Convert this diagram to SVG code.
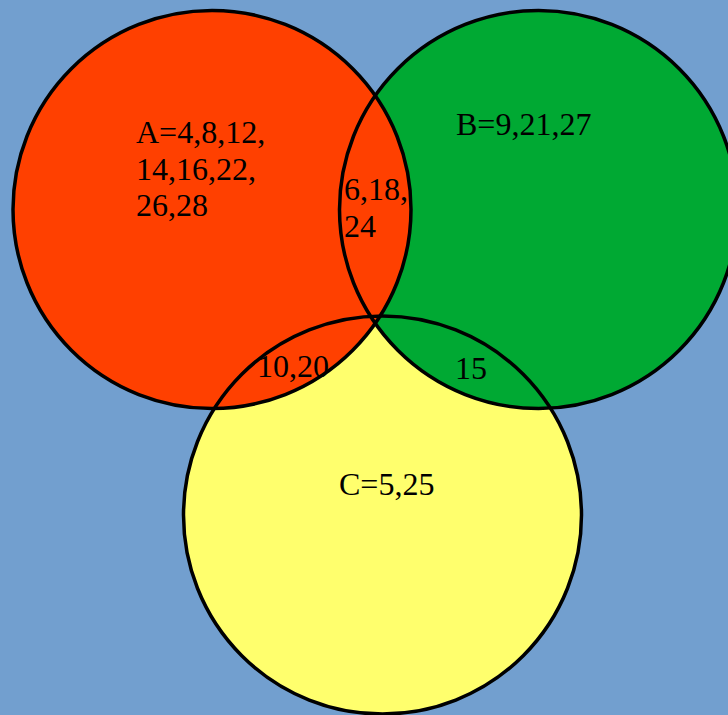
<svg xmlns="http://www.w3.org/2000/svg" width="728" height="715" viewBox="0 0 728 715">
<style>
.o{fill:none;stroke:#000;stroke-width:3.5}
text{font-family:"Liberation Serif",serif;font-size:32px;fill:#000}
</style>
<rect width="728" height="715" fill="#729fcf"/>
<g id="C"><circle cx="382.5" cy="515" r="199" fill="#ffff6d"/></g>
<g id="B"><circle cx="538.5" cy="209.5" r="199" fill="#00a933"/></g>
<g id="A"><circle cx="212" cy="209.5" r="199" fill="#ff4000"/></g>
<g id="outlines">
<circle class="o" cx="382.5" cy="515" r="199"/>
<circle class="o" cx="538.5" cy="209.5" r="199"/>
<circle class="o" cx="212" cy="209.5" r="199"/>
</g>
<g id="labels">
<text x="136" y="143">A=4,8,12,</text>
<text x="136" y="180">14,16,22,</text>
<text x="136" y="216">26,28</text>
<text x="456" y="135">B=9,21,27</text>
<text x="344" y="200">6,18,</text>
<text x="344" y="237">24</text>
<text x="257" y="377">10,20</text>
<text x="455" y="379">15</text>
<text x="339" y="495">C=5,25</text>
</g>
</svg>
